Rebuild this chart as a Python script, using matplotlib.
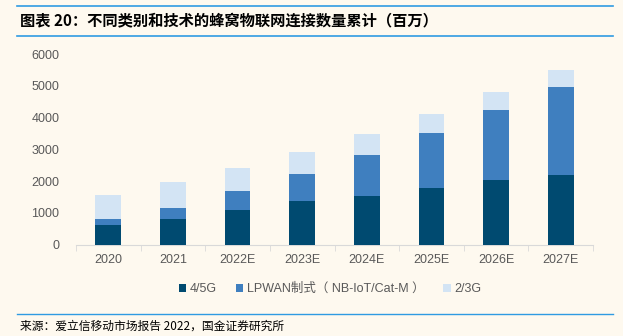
import matplotlib.pyplot as plt
import numpy as np

plt.rcParams['font.family'] = ['Liberation Sans', 'Noto Sans CJK SC', 'DejaVu Sans']

years = ['2020', '2021', '2022E', '2023E', '2024E', '2025E', '2026E', '2027E']
g45 = [600, 820, 1100, 1370, 1545, 1775, 2050, 2200]
lpwan = [190, 340, 580, 850, 1290, 1750, 2200, 2760]
g23 = [780, 800, 720, 710, 650, 600, 565, 545]

c_dark = '#004A70'
c_mid = '#3F7FBF'
c_light = '#D3E4F4'
bg = '#FEF9EF'
line_blue = '#2F9BE2'
grey = '#595959'

fig = plt.figure(figsize=(6.23, 3.36), dpi=100, facecolor=bg)
ax = fig.add_axes([76/623, 1-244.5/336, 517/623, (244.5-54.3)/336], facecolor=bg)

x = np.arange(len(years))
w = 0.4
b1 = np.array(g45)
b2 = b1 + np.array(lpwan)
ax.bar(x, g45, w, color=c_dark, label='4/5G', zorder=3)
ax.bar(x, lpwan, w, bottom=b1, color=c_mid, label='LPWAN制式（ NB-IoT/Cat-M ）', zorder=3)
ax.bar(x, g23, w, bottom=b2, color=c_light, label='2/3G', zorder=3)

ax.set_xlim(-0.5, len(years) - 0.5)
ax.set_ylim(0, 6000)
ax.set_yticks(range(0, 6001, 1000))
ax.set_xticks(x)
ax.set_xticklabels(years)
ax.set_xticks(np.arange(-0.5, len(years), 1), minor=True)
ax.tick_params(axis='x', which='major', length=0, pad=7, labelsize=9, labelcolor=grey)
ax.tick_params(axis='x', which='minor', length=4, color='#D9D9D9', direction='out')
ax.tick_params(axis='y', length=0, pad=12, labelsize=9, labelcolor=grey)
for s in ['top', 'right', 'left']:
    ax.spines[s].set_visible(False)
ax.spines['bottom'].set_color('#D9D9D9')

leg = fig.legend(loc='center', bbox_to_anchor=(330/623, 1-289/336), ncol=3, frameon=False,
                 fontsize=9, handlelength=0.6, handleheight=0.6, handletextpad=0.3,
                 columnspacing=1.5)
for t in leg.get_texts():
    t.set_color(grey)

# header / footer
fig.add_artist(plt.Line2D([17/623, 613/623], [1-6/336, 1-6/336], color=line_blue, lw=1.2))
fig.add_artist(plt.Line2D([17/623, 613/623], [1-36/336, 1-36/336], color=line_blue, lw=1.2))
fig.add_artist(plt.Line2D([17/623, 613/623], [1-314/336, 1-314/336], color=line_blue, lw=1.0))
fig.text(20/623, 1-20/336, '图表 20：不同类别和技术的蜂窝物联网连接数量累计（百万）',
         fontsize=11, fontweight='bold', va='center', ha='left', color='black',
         family=['Noto Sans CJK SC'])
fig.text(20/623, 1-326/336, '来源：爱立信移动市场报告 2022，国金证券研究所',
         fontsize=8.5, va='center', ha='left', color='black', family=['Noto Sans CJK SC'])

fig.savefig('out.png', dpi=100, facecolor=bg)
